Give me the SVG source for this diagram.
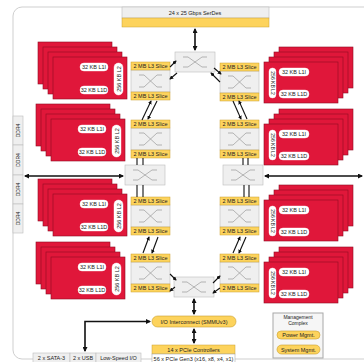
<svg xmlns="http://www.w3.org/2000/svg" width="364" height="362" viewBox="0 0 364 362">
<style>
text{font-family:"Liberation Sans",Arial,sans-serif;fill:#222;font-size:5.5px;text-anchor:middle}
.core{fill:#e0173a;stroke:#8f0d22;stroke-width:0.6}
.pill{fill:#fff;stroke:#fff;stroke-width:0.4}
.yel{fill:#fdd35c;stroke:#c9a030;stroke-width:0.5}
.gry{fill:#efefef;stroke:#bdbdbd;stroke-width:0.6}
.ico{fill:none;stroke:#9a9a9a;stroke-width:0.7}
.ypill{fill:#fdd35c;stroke:#c9a030;stroke-width:0.6}
.c{fill:none;stroke:#111;stroke-width:1.1}
.c2{fill:none;stroke:#111;stroke-width:1.6}
</style>
<defs>
<marker id="a" viewBox="0 0 10 10" refX="8" refY="5" markerWidth="4" markerHeight="4" orient="auto-start-reverse" markerUnits="userSpaceOnUse"><path d="M0,0 L10,5 L0,10 z" fill="#111"/></marker>
<marker id="b" viewBox="0 0 10 10" refX="8" refY="5" markerWidth="5" markerHeight="5" orient="auto-start-reverse" markerUnits="userSpaceOnUse"><path d="M0,0 L10,5 L0,10 z" fill="#111"/></marker>
</defs>
<rect x="13" y="7" width="380" height="352" rx="9" fill="#fff" stroke="#cfcfcf" stroke-width="1"/>

<g id="serdes">
<rect x="122" y="7" width="147" height="11" class="gry"/>
<rect x="122" y="18" width="147" height="9" class="yel"/>
<text x="195" y="15">24 x 25 Gbps SerDes</text>
</g>

<g id="ddr4">
<rect x="13" y="116" width="10" height="29" class="gry"/>
<rect x="13" y="145" width="10" height="30" class="gry"/>
<rect x="13" y="175" width="10" height="29" class="gry"/>
<rect x="13" y="204" width="10" height="29" class="gry"/>
<text transform="translate(19.8 130.5) rotate(-90)" style="font-size:5px">DDR4</text>
<text transform="translate(19.8 160) rotate(-90)" style="font-size:5px">DDR4</text>
<text transform="translate(19.8 189.5) rotate(-90)" style="font-size:5px">DDR4</text>
<text transform="translate(19.8 218.5) rotate(-90)" style="font-size:5px">DDR4</text>
</g>

<g id="core-l1">
<rect x="38" y="42" width="74" height="42" class="core"/>
<rect x="43" y="47" width="74" height="42" class="core"/>
<rect x="48" y="52" width="74" height="42" class="core"/>
<rect x="53" y="57" width="74" height="42" class="core"/>
<rect x="80" y="63" width="28" height="8" rx="4" class="pill"/><text x="94" y="69">32 KB L1I</text>
<rect x="80" y="86" width="28" height="8" rx="4" class="pill"/><text x="94" y="92">32 KB L1D</text>
<rect x="114" y="63" width="9" height="32" rx="4.5" class="pill"/><text transform="translate(120.6 79) rotate(-90)">256 KB L2</text>
</g>
<g id="core-l2">
<rect x="36" y="104" width="74" height="42" class="core"/>
<rect x="41" y="109" width="74" height="42" class="core"/>
<rect x="46" y="114" width="74" height="42" class="core"/>
<rect x="51" y="119" width="74" height="42" class="core"/>
<rect x="78" y="125" width="28" height="8" rx="4" class="pill"/><text x="92" y="131">32 KB L1I</text>
<rect x="78" y="148" width="28" height="8" rx="4" class="pill"/><text x="92" y="154">32 KB L1D</text>
<rect x="112" y="125" width="9" height="32" rx="4.5" class="pill"/><text transform="translate(118.6 141) rotate(-90)">256 KB L2</text>
</g>
<g id="core-l3">
<rect x="38" y="179" width="74" height="42" class="core"/>
<rect x="43" y="184" width="74" height="42" class="core"/>
<rect x="48" y="189" width="74" height="42" class="core"/>
<rect x="53" y="194" width="74" height="42" class="core"/>
<rect x="80" y="200" width="28" height="8" rx="4" class="pill"/><text x="94" y="206">32 KB L1I</text>
<rect x="80" y="223" width="28" height="8" rx="4" class="pill"/><text x="94" y="229">32 KB L1D</text>
<rect x="114" y="200" width="9" height="32" rx="4.5" class="pill"/><text transform="translate(120.6 216) rotate(-90)">256 KB L2</text>
</g>
<g id="core-l4">
<rect x="36" y="242" width="74" height="42" class="core"/>
<rect x="41" y="247" width="74" height="42" class="core"/>
<rect x="46" y="252" width="74" height="42" class="core"/>
<rect x="51" y="257" width="74" height="42" class="core"/>
<rect x="78" y="263" width="28" height="8" rx="4" class="pill"/><text x="92" y="269">32 KB L1I</text>
<rect x="78" y="286" width="28" height="8" rx="4" class="pill"/><text x="92" y="292">32 KB L1D</text>
<rect x="112" y="263" width="9" height="32" rx="4.5" class="pill"/><text transform="translate(118.6 279) rotate(-90)">256 KB L2</text>
</g>

<g id="core-r1">
<rect x="279" y="47" width="74" height="41" class="core"/>
<rect x="274" y="52" width="74" height="41" class="core"/>
<rect x="269" y="57" width="74" height="41" class="core"/>
<rect x="264" y="62" width="74" height="41" class="core"/>
<rect x="269" y="68" width="7" height="30" rx="3.5" class="pill"/><text transform="translate(270.8 83) rotate(90)" style="font-size:5px">256 KB L2</text>
<rect x="279" y="68" width="30" height="8" rx="4" class="pill"/><text x="294" y="74">32 KB L1I</text>
<rect x="279" y="90" width="30" height="8" rx="4" class="pill"/><text x="294" y="96">32 KB L1D</text>
</g>
<g id="core-r2">
<rect x="279" y="109" width="74" height="41" class="core"/>
<rect x="274" y="114" width="74" height="41" class="core"/>
<rect x="269" y="119" width="74" height="41" class="core"/>
<rect x="264" y="124" width="74" height="41" class="core"/>
<rect x="269" y="130" width="7" height="30" rx="3.5" class="pill"/><text transform="translate(270.8 145) rotate(90)" style="font-size:5px">256 KB L2</text>
<rect x="279" y="130" width="30" height="8" rx="4" class="pill"/><text x="294" y="136">32 KB L1I</text>
<rect x="279" y="152" width="30" height="8" rx="4" class="pill"/><text x="294" y="158">32 KB L1D</text>
</g>
<g id="core-r3">
<rect x="279" y="185" width="74" height="41" class="core"/>
<rect x="274" y="190" width="74" height="41" class="core"/>
<rect x="269" y="195" width="74" height="41" class="core"/>
<rect x="264" y="200" width="74" height="41" class="core"/>
<rect x="269" y="206" width="7" height="30" rx="3.5" class="pill"/><text transform="translate(270.8 221) rotate(90)" style="font-size:5px">256 KB L2</text>
<rect x="279" y="206" width="30" height="8" rx="4" class="pill"/><text x="294" y="212">32 KB L1I</text>
<rect x="279" y="228" width="30" height="8" rx="4" class="pill"/><text x="294" y="234">32 KB L1D</text>
</g>
<g id="core-r4">
<rect x="279" y="247" width="74" height="41" class="core"/>
<rect x="274" y="252" width="74" height="41" class="core"/>
<rect x="269" y="257" width="74" height="41" class="core"/>
<rect x="264" y="262" width="74" height="41" class="core"/>
<rect x="269" y="268" width="7" height="30" rx="3.5" class="pill"/><text transform="translate(270.8 283) rotate(90)" style="font-size:5px">256 KB L2</text>
<rect x="279" y="268" width="30" height="8" rx="4" class="pill"/><text x="294" y="274">32 KB L1I</text>
<rect x="279" y="290" width="30" height="8" rx="4" class="pill"/><text x="294" y="296">32 KB L1D</text>
</g>

<g id="l3-l1">
<rect x="131" y="70" width="39" height="22" class="gry"/>
<path class="ico" d="M139,75 H144 L157,87 H162 M139,87 H144 L157,75 H162"/>
<rect x="131" y="62" width="39" height="8" class="yel"/><text x="150.5" y="68">2 MB L3 Slice</text>
<rect x="131" y="92" width="39" height="8" class="yel"/><text x="150.5" y="98">2 MB L3 Slice</text>
</g>
<g id="l3-l2">
<rect x="131" y="128" width="39" height="22" class="gry"/>
<path class="ico" d="M139,133 H144 L157,145 H162 M139,145 H144 L157,133 H162"/>
<rect x="131" y="120" width="39" height="8" class="yel"/><text x="150.5" y="126">2 MB L3 Slice</text>
<rect x="131" y="150" width="39" height="8" class="yel"/><text x="150.5" y="156">2 MB L3 Slice</text>
</g>
<g id="l3-l3">
<rect x="131" y="205" width="39" height="22" class="gry"/>
<path class="ico" d="M139,210 H144 L157,222 H162 M139,222 H144 L157,210 H162"/>
<rect x="131" y="197" width="39" height="8" class="yel"/><text x="150.5" y="203">2 MB L3 Slice</text>
<rect x="131" y="227" width="39" height="8" class="yel"/><text x="150.5" y="233">2 MB L3 Slice</text>
</g>
<g id="l3-l4">
<rect x="131" y="262" width="39" height="22" class="gry"/>
<path class="ico" d="M139,267 H144 L157,279 H162 M139,279 H144 L157,267 H162"/>
<rect x="131" y="254" width="39" height="8" class="yel"/><text x="150.5" y="260">2 MB L3 Slice</text>
<rect x="131" y="284" width="39" height="8" class="yel"/><text x="150.5" y="290">2 MB L3 Slice</text>
</g>
<g id="l3-r1">
<rect x="220" y="71" width="39" height="22" class="gry"/>
<path class="ico" d="M228,76 H233 L246,88 H251 M228,88 H233 L246,76 H251"/>
<rect x="220" y="63" width="39" height="8" class="yel"/><text x="239.5" y="69">2 MB L3 Slice</text>
<rect x="220" y="93" width="39" height="8" class="yel"/><text x="239.5" y="99">2 MB L3 Slice</text>
</g>
<g id="l3-r2">
<rect x="220" y="128" width="39" height="22" class="gry"/>
<path class="ico" d="M228,133 H233 L246,145 H251 M228,145 H233 L246,133 H251"/>
<rect x="220" y="120" width="39" height="8" class="yel"/><text x="239.5" y="126">2 MB L3 Slice</text>
<rect x="220" y="150" width="39" height="8" class="yel"/><text x="239.5" y="156">2 MB L3 Slice</text>
</g>
<g id="l3-r3">
<rect x="220" y="205" width="39" height="22" class="gry"/>
<path class="ico" d="M228,210 H233 L246,222 H251 M228,222 H233 L246,210 H251"/>
<rect x="220" y="197" width="39" height="8" class="yel"/><text x="239.5" y="203">2 MB L3 Slice</text>
<rect x="220" y="227" width="39" height="8" class="yel"/><text x="239.5" y="233">2 MB L3 Slice</text>
</g>
<g id="l3-r4">
<rect x="220" y="262" width="39" height="22" class="gry"/>
<path class="ico" d="M228,267 H233 L246,279 H251 M228,279 H233 L246,267 H251"/>
<rect x="220" y="254" width="39" height="8" class="yel"/><text x="239.5" y="260">2 MB L3 Slice</text>
<rect x="220" y="284" width="39" height="8" class="yel"/><text x="239.5" y="290">2 MB L3 Slice</text>
</g>

<g id="xbar-top">
<rect x="175" y="52" width="40" height="20" class="gry"/>
<path class="ico" d="M183,57 H188 L202,67 H207 M183,67 H188 L202,57 H207"/>
</g>
<g id="xbar-left">
<rect x="125" y="165" width="40" height="20" class="gry"/>
<path class="ico" d="M133,170 H138 L152,180 H157 M133,180 H138 L152,170 H157"/>
</g>
<g id="xbar-right">
<rect x="223" y="165" width="40" height="20" class="gry"/>
<path class="ico" d="M231,170 H236 L250,180 H255 M231,180 H236 L250,170 H255"/>
</g>
<g id="xbar-bottom">
<rect x="174" y="277" width="40" height="20" class="gry"/>
<path class="ico" d="M182,282 H187 L201,292 H206 M182,292 H187 L201,282 H206"/>
</g>

<g id="io">
<rect x="152" y="316" width="84" height="11" rx="5.5" class="ypill"/>
<text x="194" y="323.5">I/O Interconnect (SMMUv3)</text>
</g>
<g id="pcie">
<rect x="152" y="345" width="83" height="9" class="yel"/>
<rect x="152" y="354" width="83" height="10" fill="#fff" stroke="#aaa" stroke-width="0.6"/>
<text x="193.5" y="351.5">14 x PCIe Controllers</text>
<text x="193.5" y="360.5">56 x PCIe Gen3 (x16, x8, x4, x1)</text>
</g>
<g id="lowspeed">
<rect x="33" y="353" width="37" height="11" class="gry"/>
<rect x="70" y="353" width="26" height="11" class="gry"/>
<rect x="96" y="353" width="45" height="11" class="gry"/>
<text x="51.5" y="360">2 x SATA-3</text>
<text x="83" y="360">2 x USB</text>
<text x="118.5" y="360">Low-Speed I/O</text>
</g>
<g id="mgmt">
<rect x="273" y="313" width="50" height="45" fill="#f6f6f6" stroke="#a8a8a8" stroke-width="1"/>
<text x="298" y="319" style="font-size:5px">Management</text>
<text x="298" y="325" style="font-size:5px">Complex</text>
<rect x="277" y="331" width="43" height="8" rx="4" class="ypill"/>
<text x="298.5" y="337">Power Mgmt.</text>
<rect x="277" y="345" width="43" height="9" rx="4.5" class="ypill"/>
<text x="298.5" y="351.5">System Mgmt.</text>
</g>

<g id="connectors">
<path class="c2" d="M195,29 V50" marker-start="url(#b)" marker-end="url(#b)"/>
<path class="c2" d="M25,176 H123" marker-start="url(#b)" marker-end="url(#b)"/>
<path class="c2" d="M265,176 H362" marker-start="url(#b)" marker-end="url(#b)"/>
<path class="c2" d="M194,299 V314" marker-start="url(#b)" marker-end="url(#b)"/>
<path class="c2" d="M194,329 V343" marker-start="url(#b)" marker-end="url(#b)"/>
<path class="c2" d="M85,351 V321.5 H150" marker-start="url(#b)" marker-end="url(#b)"/>
<path class="c" d="M170,67 L176,61" marker-end="url(#a)"/>
<path class="c" d="M177,73 L170,79" marker-end="url(#a)"/>
<path class="c" d="M214,68 L221,74" marker-end="url(#a)"/>
<path class="c" d="M220,82 L211,73" marker-end="url(#a)"/>
<path class="c" d="M142,120 L151,101" marker-end="url(#a)"/>
<path class="c" d="M157,101 L148,119" marker-end="url(#a)"/>
<path class="c" d="M233,101 L241,119" marker-end="url(#a)"/>
<path class="c" d="M247,119 L239,101" marker-end="url(#a)"/>
<path class="c" d="M137,158 V165"/>
<path class="c" d="M143,158 V165"/>
<path class="c" d="M137,185 V197"/>
<path class="c" d="M143,185 V197"/>
<path class="c" d="M243,158 V165"/>
<path class="c" d="M248,158 V165"/>
<path class="c" d="M244,185 V197"/>
<path class="c" d="M249,185 V197"/>
<path class="c" d="M143,253 L149,237" marker-end="url(#a)"/>
<path class="c" d="M158,237 L152,253" marker-end="url(#a)"/>
<path class="c" d="M233,253 L240,237" marker-end="url(#a)"/>
<path class="c" d="M246,237 L239,253" marker-end="url(#a)"/>
<path class="c" d="M170,274 L176,280" marker-end="url(#a)"/>
<path class="c" d="M175,287 L170,291" marker-end="url(#a)"/>
<path class="c" d="M213,283 L220,276" marker-end="url(#a)"/>
<path class="c" d="M220,288 L213,293" marker-end="url(#a)"/>
</g>
</svg>
